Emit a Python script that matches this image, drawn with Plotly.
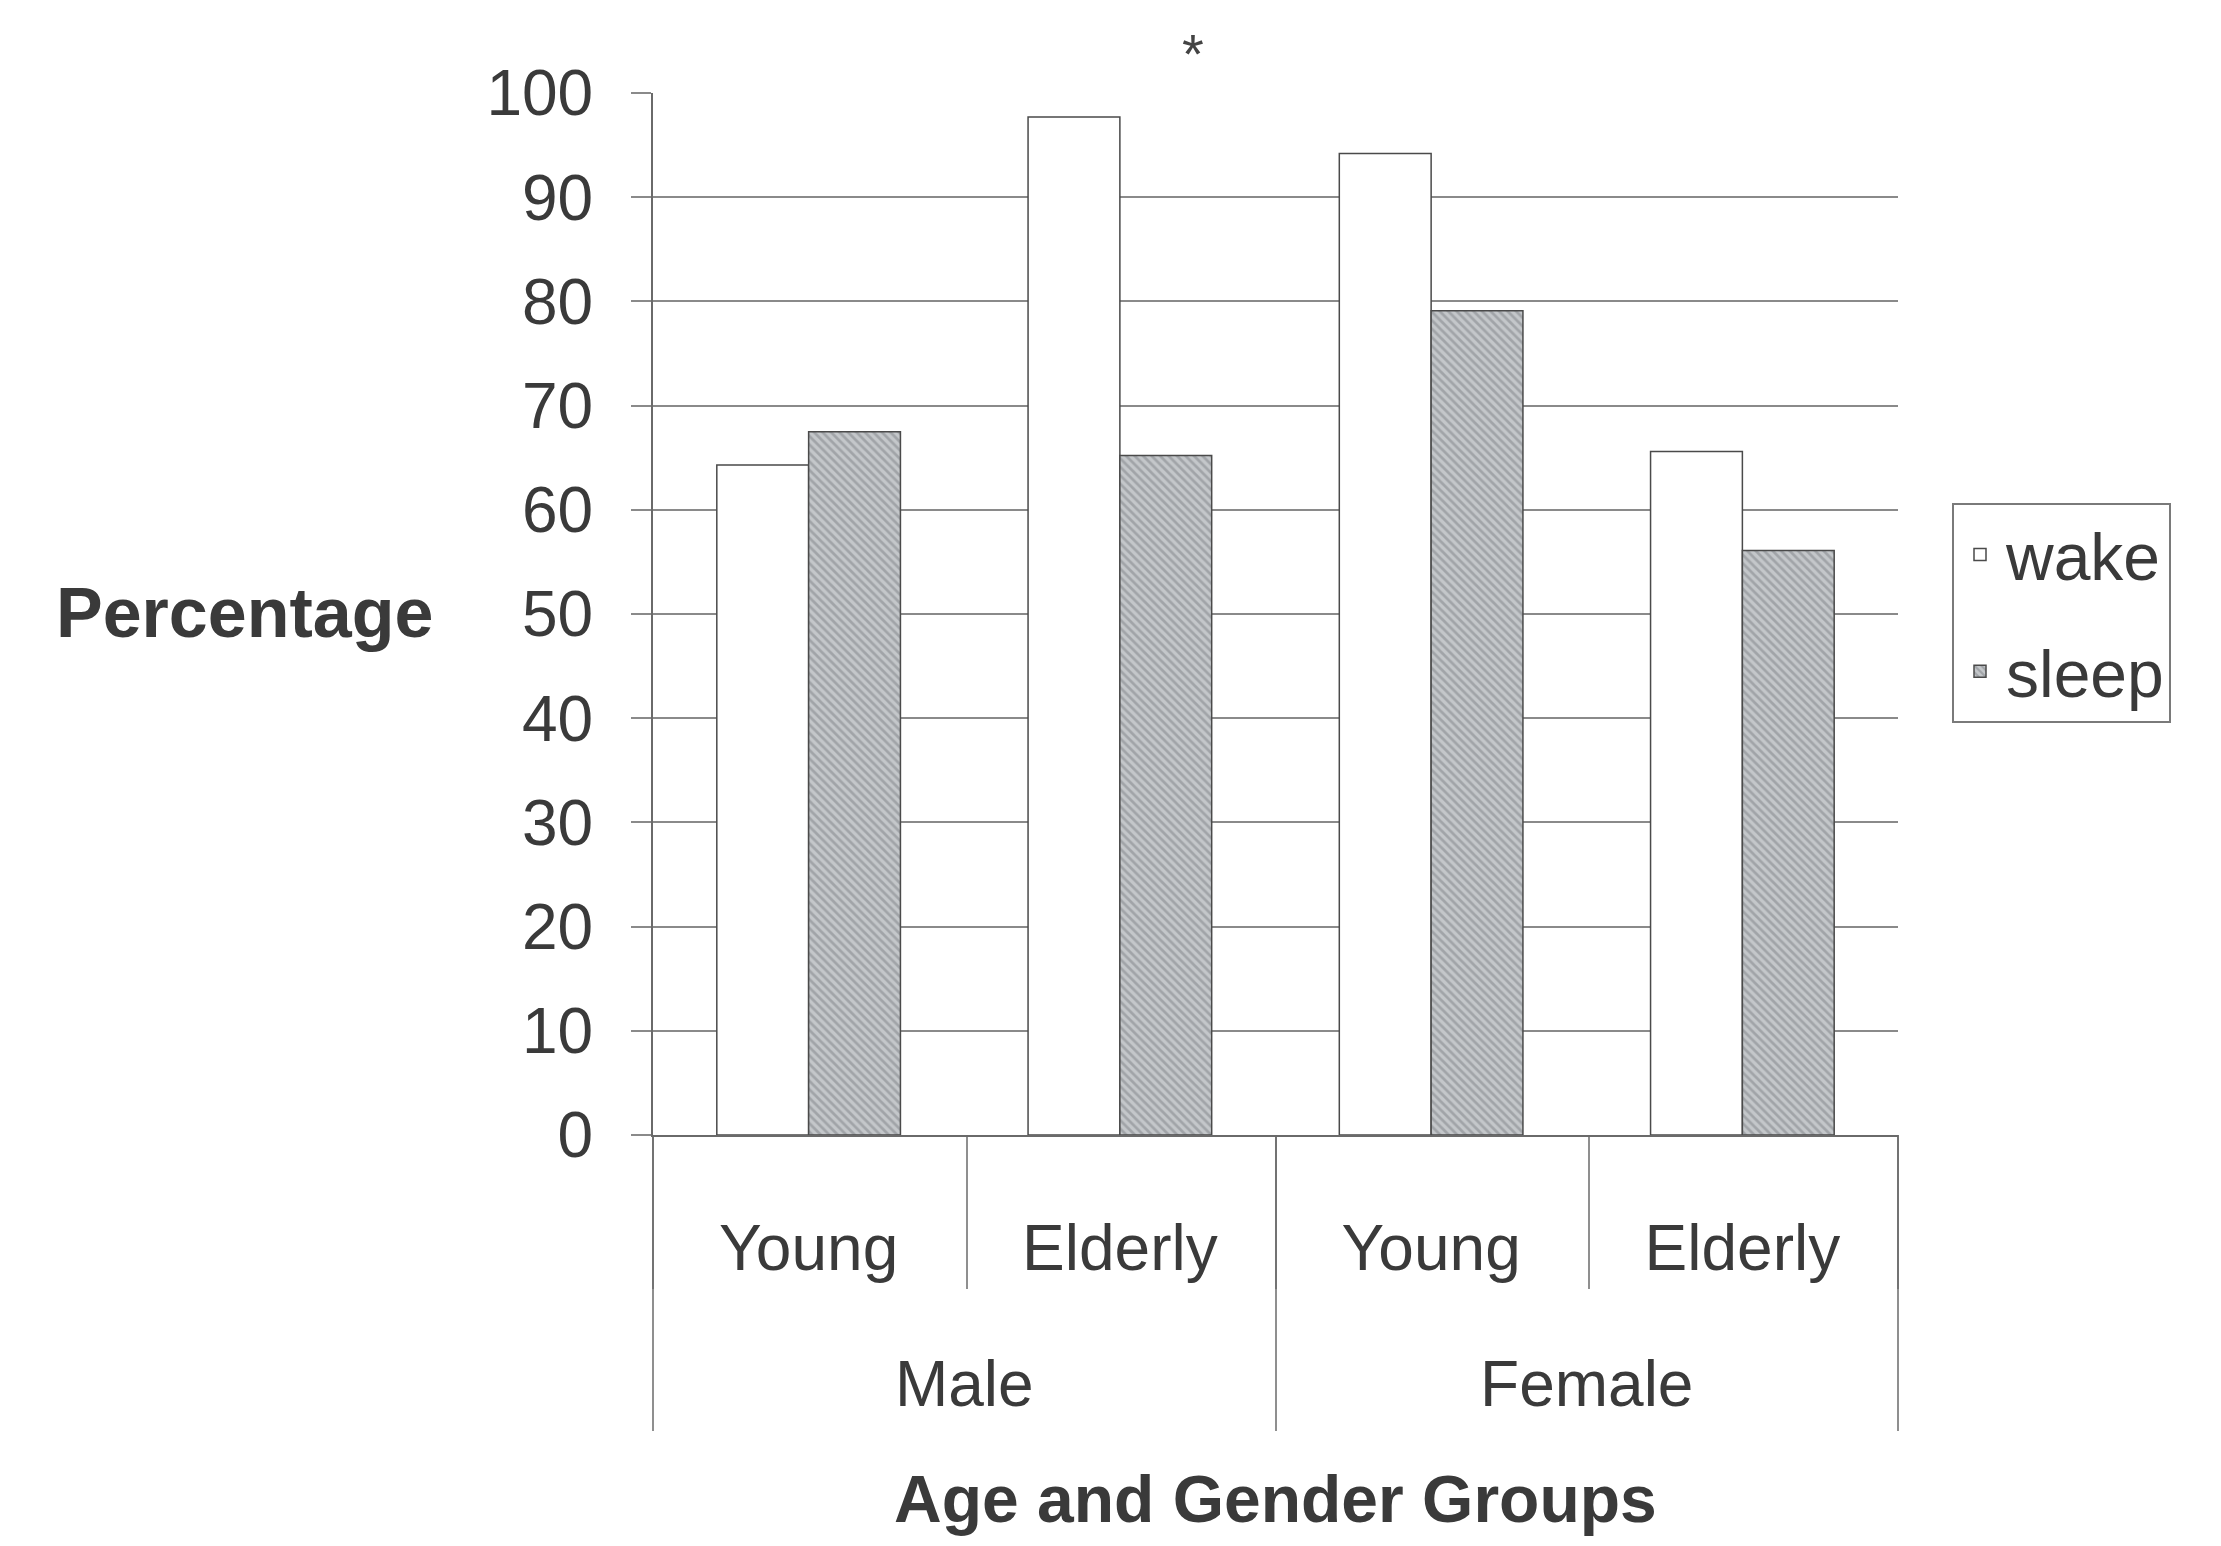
import plotly.graph_objects as go

genders = ["Male", "Male", "Female", "Female"]
ages = ["Young", "Elderly", "Young", "Elderly"]
wake = [64.3, 97.7, 94.2, 65.6]
sleep = [67.5, 65.2, 79.1, 56.1]
y_ticks = [0, 10, 20, 30, 40, 50, 60, 70, 80, 90, 100]
gender_groups = ["Male", "Female"]

cats = [f"{g} {a}" for g, a in zip(genders, ages)]
# centre position of each gender group on the category scale
group_pos = [sum(i for i, g in enumerate(genders) if g == grp) / genders.count(grp)
             for grp in gender_groups]

W, H = 2221, 1546
L, R, T, B = 653, 2221 - 1898, 93, 1546 - 1135
pw, ph = W - L - R, H - T - B

FONT = "Liberation Sans, Arial, sans-serif"
TXT = "#3a3a3a"

fig = go.Figure()
fig.add_trace(go.Bar(
    x=cats, y=wake, name="wake", legendgroup="w",
    marker=dict(color="white", line=dict(color="#4a4a4a", width=1.5)),
))
fig.add_trace(go.Bar(
    x=cats, y=sleep, name="sleep", legendgroup="s",
    marker=dict(color="#c4c7ca", line=dict(color="#4a4a4a", width=1.5),
                pattern=dict(shape="\\", fgcolor="#7d8185", bgcolor="#c4c7ca",
                             size=6, solidity=0.45)),
))
# invisible helper trace so the group-label axis is active
fig.add_trace(go.Scatter(x=group_pos, y=[0, 0], xaxis="x2", mode="markers",
                         marker=dict(opacity=0), showlegend=False, hoverinfo="skip"))

def px(xpix):
    return (xpix - L) / pw

def py(ypix):
    return (H - B - ypix) / ph

shapes = []
for xp in [653, 967, 1276, 1589, 1898]:
    shapes.append(dict(type="line", xref="paper", yref="paper",
                       x0=px(xp), x1=px(xp), y0=0, y1=py(1289),
                       line=dict(color="#6a6a6a", width=1.5)))
for xp in [653, 1276, 1898]:
    shapes.append(dict(type="line", xref="paper", yref="paper",
                       x0=px(xp), x1=px(xp), y0=0, y1=py(1431),
                       line=dict(color="#6a6a6a", width=1.5)))

fig.update_layout(
    width=W, height=H,
    margin=dict(l=L, r=R, t=T, b=B, autoexpand=False),
    paper_bgcolor="white", plot_bgcolor="white",
    barmode="group", bargap=0.41, bargroupgap=0,
    font=dict(family=FONT, color=TXT, size=64),
    showlegend=True,
    legend=dict(x=px(1952), y=py(503), xanchor="left", yanchor="top",
                bgcolor="white", bordercolor="#7a7a7a", borderwidth=2,
                font=dict(size=66, color=TXT), itemwidth=42,
                tracegroupgap=28, traceorder="grouped"),
    shapes=shapes,
    xaxis=dict(type="category", categoryorder="array", categoryarray=cats,
               range=[-0.5, len(cats) - 0.5],
               tickvals=cats, ticktext=ages,
               showgrid=False, showline=True,
               linecolor="#6a6a6a", linewidth=2, ticks="",
               tickfont=dict(size=64, color=TXT, family=FONT),
               ticklabelstandoff=56),
    xaxis2=dict(overlaying="x", anchor="y", side="bottom", type="linear",
                range=[-0.5, len(cats) - 0.5], tickvals=group_pos,
                ticktext=gender_groups, showgrid=False, showline=False,
                zeroline=False, ticks="",
                tickfont=dict(size=64, color=TXT, family=FONT),
                ticklabelstandoff=206),
    yaxis=dict(range=[0, 100], tickvals=y_ticks, showgrid=True,
               gridcolor="#8a8a8a", gridwidth=2, zeroline=False,
               showline=True, linecolor="#6a6a6a", linewidth=2,
               ticks="outside", ticklen=20, tickcolor="#8a8a8a", tickwidth=2,
               tickfont=dict(size=64, color=TXT, family=FONT),
               ticklabelstandoff=25),
    annotations=[
        dict(text="<b>Percentage</b>", xref="paper", yref="paper",
             x=px(435), y=py(613), xanchor="right", yanchor="middle",
             showarrow=False, font=dict(size=70, color=TXT, family=FONT)),
        dict(text="<b>Age and Gender Groups</b>", xref="paper", yref="paper",
             x=px(1275), y=py(1499), xanchor="center", yanchor="middle",
             showarrow=False, font=dict(size=66, color=TXT, family=FONT)),
        dict(text="*", xref="paper", yref="paper",
             x=px(1193), y=py(54), xanchor="center", yanchor="middle",
             showarrow=False, font=dict(size=56, color="#444", family=FONT)),
    ],
)

fig.write_html("out.html")
